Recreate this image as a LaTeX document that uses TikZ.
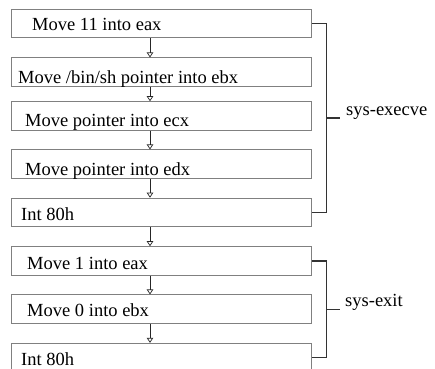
\documentclass[tikz,border=0pt]{standalone}
\usepackage{fontspec}
\setmainfont{Liberation Serif}
\usetikzlibrary{arrows.meta,calc}
\begin{document}
\begin{tikzpicture}[x=1pt,y=1pt,
  boxst/.style={draw=black!50, line width=1pt, minimum width=300pt, minimum height=28.5pt, inner sep=0pt, anchor=center},
  txt/.style={anchor=base west, inner sep=0pt, font=\fontsize{18.5}{20}\selectfont},
  arr/.style={draw=black!85, line width=0.9pt, -{Triangle[open, length=5pt, width=6.5pt, line width=0.7pt]}},
  brk/.style={draw=black!80, line width=1.3pt},
]
\useasboundingbox[fill=white] (0,0) rectangle (435,368);
\coordinate (ax) at (150,0);
\coordinate (bx) at (326.7,0);
% boxes
\node[boxst] (b1) at (161.7,344.5) {};
\node[boxst] (b2) at (161.7,295.8) {};
\node[boxst] (b3) at (161.7,252.1) {};
\node[boxst] (b4) at (161.7,203.8) {};
\node[boxst] (b5) at (161.7,155.6) {};
\node[boxst] (b6) at (161.7,107.1) {};
\node[boxst] (b7) at (161.7,58.8) {};
\node[boxst] (b8) at (161.7,10.4) {};
% texts
\node[txt] (t1) at (32,338) {Move 11 into eax};
\node[txt] (t2) at (18,285) {Move /bin/sh pointer into ebx};
\node[txt] (t3) at (25,242) {Move pointer into ecx};
\node[txt] (t4) at (25,193) {Move pointer into edx};
\node[txt] (t5) at (21,148) {Int 80h};
\node[txt] (t6) at (27,98.7) {Move 1 into eax};
\node[txt] (t7) at (27,51.3) {Move 0 into ebx};
\node[txt] (t8) at (21,2.5) {Int 80h};
% arrows
\draw[arr] (ax |- b1.south) -- (ax |- b2.north);
\draw[arr] (ax |- b2.south) -- (ax |- b3.north);
\draw[arr] (ax |- b3.south) -- (ax |- b4.north);
\draw[arr] (ax |- b4.south) -- (ax |- b5.north);
\draw[arr] (ax |- b5.south) -- (ax |- b6.north);
\draw[arr] (ax |- b6.south) -- (ax |- b7.north);
\draw[arr] (ax |- b7.south) -- (ax |- b8.north);
% brackets
\draw[brk] (b1.east) -- (bx |- b1.east) -- (bx |- b5.east) -- (b5.east);
\coordinate (m1) at ($(bx |- b1.east)!0.5!(bx |- b5.east)$);
\draw[brk] (m1) -- ++(13.3,0) coordinate (e1);
\node[txt] (l1) at ($(e1)+(6,2.8)$) {sys-execve};
\draw[brk] (b6.east) -- (bx |- b6.east) -- (bx |- b8.east) -- (b8.east);
\coordinate (m2) at ($(bx |- b6.east)!0.5!(bx |- b8.east)$);
\draw[brk] (m2) -- ++(13.3,0) coordinate (e2);
\node[txt] (l2) at ($(e2)+(5,2.8)$) {sys-exit};
\end{tikzpicture}
\end{document}
